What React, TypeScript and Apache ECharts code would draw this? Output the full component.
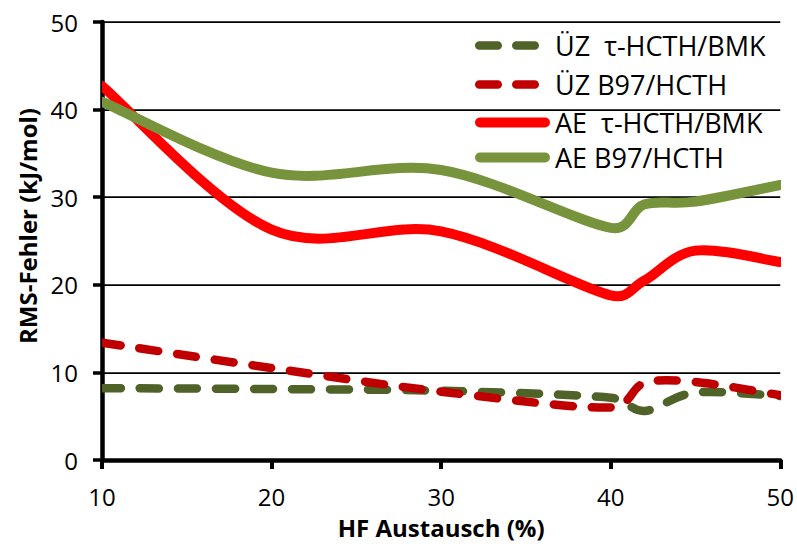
import React, { useEffect, useRef } from "react";
import * as echarts from "echarts";

// HF exchange (%) values where the series are sampled
const hfExchange = [10, 20, 30, 40, 42, 45, 50];
// RMS errors (kJ/mol)
const uzTauHcthBmk = [8.2, 8.1, 7.9, 7.1, 5.6, 7.7, 7.3];
const uzB97Hcth = [13.4, 10.5, 7.8, 6.0, 8.8, 8.9, 7.4];
const aeTauHcthBmk = [42.7, 26.3, 26.1, 18.8, 20.5, 23.9, 22.6];
const aeB97Hcth = [40.9, 32.8, 33.1, 26.5, 29.2, 29.5, 31.4];

const seriesNames = ["ÜZ  τ-HCTH/BMK", "ÜZ B97/HCTH", "AE  τ-HCTH/BMK", "AE B97/HCTH"];
const xAxisTitle = "HF Austausch (%)";
const yAxisTitle = "RMS-Fehler (kJ/mol)";

const FONT = "'Open Sans', 'Noto Sans', sans-serif";

// legend icons: two rounded dashes / one rounded bar
const DASH_ICON =
  "path://M4.25,0 H22.75 A4.25,4.25 0 0 1 22.75,8.5 H4.25 A4.25,4.25 0 0 1 4.25,0 Z " +
  "M41.25,0 H59.75 A4.25,4.25 0 0 1 59.75,8.5 H41.25 A4.25,4.25 0 0 1 41.25,0 Z";
const SOLID_ICON = "path://M5,0 H70 A5,5 0 0 1 70,10 H5 A5,5 0 0 1 5,0 Z";

function toPoints(values: number[]) {
  return hfExchange.map((x, i) => [x, values[i]]);
}

// Excel-like smoothed curve (Bezier with neighbour-based control points)
function smoothPath(pts: number[][]): string {
  if (pts.length < 2) return "";
  let d = `M${pts[0][0]},${pts[0][1]}`;
  for (let i = 0; i < pts.length - 1; i++) {
    const p0 = pts[i - 1] || pts[i];
    const p1 = pts[i];
    const p2 = pts[i + 1];
    const p3 = pts[i + 2] || pts[i + 1];
    const seg = Math.hypot(p2[0] - p1[0], p2[1] - p1[1]);
    const clamp = (vx: number, vy: number) => {
      const len = Math.hypot(vx, vy);
      const lim = seg / 2;
      if (len > lim && len > 0) {
        const k = lim / len;
        return [vx * k, vy * k];
      }
      return [vx, vy];
    };
    const v1 = clamp((p2[0] - p0[0]) / 6, (p2[1] - p0[1]) / 6);
    const v2 = clamp((p3[0] - p1[0]) / 6, (p3[1] - p1[1]) / 6);
    const c1x = p1[0] + v1[0];
    const c1y = p1[1] + v1[1];
    const c2x = p2[0] - v2[0];
    const c2y = p2[1] - v2[1];
    d += ` C${c1x},${c1y} ${c2x},${c2y} ${p2[0]},${p2[1]}`;
  }
  return d;
}

export default function App() {
  const ref = useRef<HTMLDivElement>(null);

  useEffect(() => {
    if (!ref.current) return;
    const chart = echarts.init(ref.current, undefined, { renderer: "svg" });

    const mkSeries = (
      name: string,
      values: number[],
      color: string,
      width: number,
      dashed: boolean
    ) => ({
      name,
      type: "custom",
      data: toPoints(values),
      encode: { x: 0, y: 1 },
      clip: true,
      itemStyle: { color },
      silent: true,
      renderItem: (params: any, api: any) => {
        if (params.dataIndex !== 0) return { type: "group", children: [] };
        const pts = hfExchange.map((x, i) => api.coord([x, values[i]]));
        return {
          type: "path",
          shape: { pathData: smoothPath(pts) },
          style: {
            fill: "none",
            stroke: color,
            lineWidth: width,
            lineDash: dashed ? [19, 19] : null,
            lineCap: "round",
            lineJoin: "round",
          },
        };
      },
    });

    chart.setOption({
      animation: false,
      textStyle: { fontFamily: FONT },
      grid: { left: 102, right: 15, top: 22, bottom: 83, containLabel: false },
      legend: [
        {
          data: [
            { name: seriesNames[0], icon: DASH_ICON },
            { name: seriesNames[1], icon: DASH_ICON },
          ],
          orient: "vertical",
          left: 475,
          top: 32,
          padding: 0,
          itemWidth: 64,
          itemHeight: 8.5,
          itemGap: 12,
          selectedMode: false,
          textStyle: {
            fontFamily: FONT,
            fontSize: 27,
            color: "#000",
            padding: [0, 0, 0, 11],
          },
        },
        {
          data: [
            { name: seriesNames[2], icon: SOLID_ICON },
            { name: seriesNames[3], icon: SOLID_ICON },
          ],
          orient: "vertical",
          left: 475,
          top: 109,
          padding: 0,
          itemWidth: 75,
          itemHeight: 10,
          itemGap: 8,
          selectedMode: false,
          textStyle: {
            fontFamily: FONT,
            fontSize: 27,
            color: "#000",
            padding: [0, 0, 0, 0],
          },
        },
      ],
      xAxis: {
        type: "value",
        min: 10,
        max: 50,
        interval: 10,
        name: xAxisTitle,
        nameLocation: "middle",
        nameGap: 57,
        nameTextStyle: {
          fontFamily: FONT,
          fontSize: 24,
          lineHeight: 20,
          fontWeight: "bold",
          color: "#000",
        },
        axisLine: { show: true, lineStyle: { color: "#000", width: 4.5 } },
        axisTick: { show: true, length: 9, lineStyle: { color: "#000", width: 4 } },
        axisLabel: { margin: 26, fontFamily: FONT, fontSize: 24, lineHeight: 20, color: "#000" },
        splitLine: { show: false },
      },
      yAxis: {
        type: "value",
        min: 0,
        max: 50,
        interval: 10,
        name: yAxisTitle,
        nameLocation: "middle",
        nameRotate: 90,
        nameGap: 60,
        nameTextStyle: {
          fontFamily: FONT,
          fontSize: 24,
          fontWeight: "bold",
          color: "#000",
          padding: [0, 0, 0, 30],
        },
        axisLine: { show: true, lineStyle: { color: "#000", width: 4.5 } },
        axisTick: { show: true, length: 9, lineStyle: { color: "#000", width: 3.5 } },
        axisLabel: { margin: 24, fontFamily: FONT, fontSize: 24, color: "#000" },
        splitLine: { show: true, lineStyle: { color: "#000", width: 1.75 } },
      },
      series: [
        mkSeries(seriesNames[0], uzTauHcthBmk, "#4F6228", 8.5, true),
        mkSeries(seriesNames[1], uzB97Hcth, "#C00000", 8.5, true),
        mkSeries(seriesNames[2], aeTauHcthBmk, "#FF0000", 10, false),
        mkSeries(seriesNames[3], aeB97Hcth, "#77933C", 10, false),
      ],
    });

    return () => chart.dispose();
  }, []);

  return (
    <div
      ref={ref}
      style={{ position: "fixed", left: 0, top: 0, width: 797, height: 544, background: "#fff" }}
    />
  );
}
